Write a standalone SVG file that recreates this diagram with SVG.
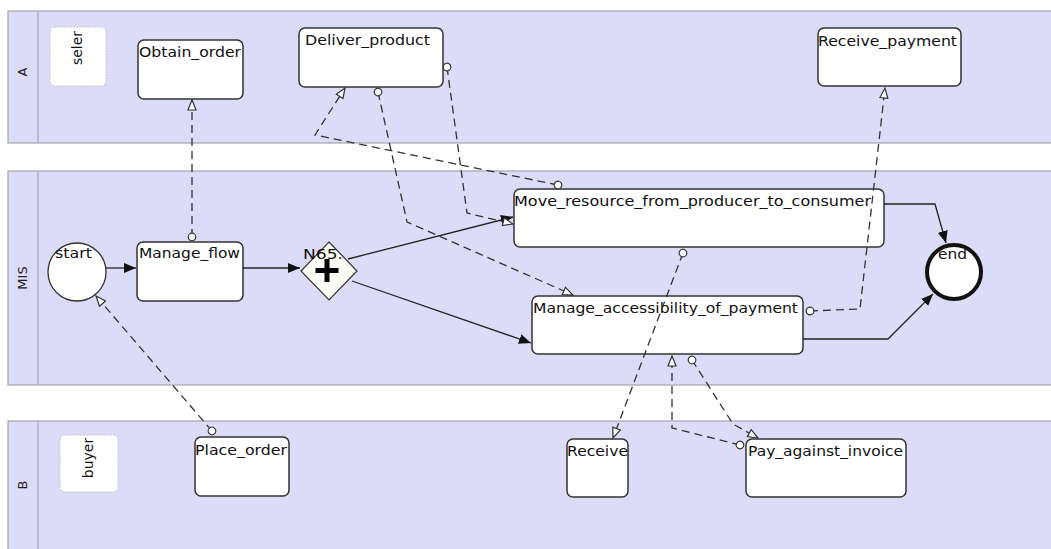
<svg xmlns="http://www.w3.org/2000/svg" width="1051" height="549" viewBox="0 0 1051 549">
<style>
.lane{fill:#dcdcf8;stroke:#a4a4b0;stroke-width:1.2}
.sep{stroke:#a4a4b0;stroke-width:1.2}
.hdr{font-family:"DejaVu Sans",sans-serif;font-size:13px;fill:#222}
.part{fill:#fff;stroke:#c8c8c8;stroke-width:1;stroke-dasharray:2 1}
.task{fill:#fff;stroke:#333;stroke-width:1.5}
.lbl{font-family:"DejaVu Sans",sans-serif;font-size:14px;fill:#111}
.flow{fill:none;stroke:#222;stroke-width:1.3}
.msg{fill:none;stroke:#333;stroke-width:1.3;stroke-dasharray:8 5}
</style>
<defs>
<marker id="arr" markerUnits="userSpaceOnUse" markerWidth="13" markerHeight="10" refX="12" refY="5" orient="auto"><path d="M0,0 L12,5 L0,10 z" fill="#111"/></marker>
<marker id="tri" markerUnits="userSpaceOnUse" markerWidth="12" markerHeight="10" refX="11" refY="5" orient="auto"><path d="M1,1 L11,5 L1,9 z" fill="#fff" stroke="#333" stroke-width="1.2"/></marker>
<marker id="dot" markerUnits="userSpaceOnUse" markerWidth="10" markerHeight="10" refX="5" refY="5" orient="auto"><circle cx="5" cy="5" r="3.8" fill="#fff" stroke="#333" stroke-width="1.2"/></marker>
</defs>
<rect width="1051" height="549" fill="#fff"/>
<g id="lane-A">
<rect class="lane" x="8" y="11" width="1050" height="132"/>
<line class="sep" x1="38" y1="11" x2="38" y2="143"/>
<text class="hdr" transform="translate(27,72) rotate(-90)" text-anchor="middle">A</text>
</g>
<g id="lane-MIS">
<rect class="lane" x="8" y="171" width="1050" height="214"/>
<line class="sep" x1="38" y1="171" x2="38" y2="385"/>
<text class="hdr" transform="translate(27,278) rotate(-90)" text-anchor="middle">MIS</text>
</g>
<g id="lane-B">
<rect class="lane" x="8" y="421" width="1050" height="140"/>
<line class="sep" x1="38" y1="421" x2="38" y2="549"/>
<text class="hdr" transform="translate(27,485) rotate(-90)" text-anchor="middle">B</text>
</g>
<g id="seler">
<rect class="part" x="50" y="27" width="56" height="59" rx="5"/>
<text class="lbl" transform="translate(82,48) rotate(-90)" text-anchor="middle" font-size="13">seler</text>
</g>
<g id="buyer">
<rect class="part" x="60" y="435" width="58" height="57" rx="5"/>
<text class="lbl" transform="translate(93,458) rotate(-90)" text-anchor="middle" font-size="13">buyer</text>
</g>
<g id="Obtain_order">
<rect class="task" x="138" y="40" width="105" height="59" rx="6"/>
<text class="lbl" x="139" y="57" textLength="102" lengthAdjust="spacingAndGlyphs">Obtain_order</text>
</g>
<g id="Deliver_product">
<rect class="task" x="299" y="28" width="144" height="59" rx="6"/>
<text class="lbl" x="305" y="45" textLength="125" lengthAdjust="spacingAndGlyphs">Deliver_product</text>
</g>
<g id="Receive_payment">
<rect class="task" x="818" y="28" width="143" height="58" rx="6"/>
<text class="lbl" x="818" y="46" textLength="139" lengthAdjust="spacingAndGlyphs">Receive_payment</text>
</g>
<g id="start">
<circle cx="77" cy="272" r="29" fill="#fff" stroke="#333" stroke-width="1.3"/>
<text class="lbl" x="55" y="258" textLength="37" lengthAdjust="spacingAndGlyphs">start</text>
</g>
<g id="Manage_flow">
<rect class="task" x="137" y="242" width="106" height="59" rx="6"/>
<text class="lbl" x="139" y="258" textLength="101" lengthAdjust="spacingAndGlyphs">Manage_flow</text>
</g>
<g id="gateway">
<polygon points="329,242 357,271 329,300 301,271" fill="#fdfdf6" stroke="#333" stroke-width="1.2"/>
<path d="M327,259 L327,282 M315.5,270.5 L338.5,270.5" stroke="#000" stroke-width="5"/>
<text class="lbl" x="303" y="259" textLength="40" lengthAdjust="spacingAndGlyphs">N65.</text>
</g>
<g id="Move_resource_from_producer_to_consumer">
<rect class="task" x="514" y="189" width="370" height="58" rx="6"/>
<text class="lbl" x="514" y="206" textLength="357" lengthAdjust="spacingAndGlyphs">Move_resource_from_producer_to_consumer</text>
</g>
<g id="Manage_accessibility_of_payment">
<rect class="task" x="532" y="296" width="271" height="58" rx="6"/>
<text class="lbl" x="533" y="313" textLength="265" lengthAdjust="spacingAndGlyphs">Manage_accessibility_of_payment</text>
</g>
<g id="end">
<circle cx="954" cy="272" r="27" fill="#fff" stroke="#111" stroke-width="4"/>
<text class="lbl" x="938" y="259" textLength="29" lengthAdjust="spacingAndGlyphs">end</text>
</g>
<g id="Place_order">
<rect class="task" x="195" y="437" width="94" height="59" rx="6"/>
<text class="lbl" x="195" y="455" textLength="92" lengthAdjust="spacingAndGlyphs">Place_order</text>
</g>
<g id="Receive">
<rect class="task" x="567" y="439" width="61" height="58" rx="6"/>
<text class="lbl" x="567" y="456" textLength="61" lengthAdjust="spacingAndGlyphs">Receive</text>
</g>
<g id="Pay_against_invoice">
<rect class="task" x="746" y="439" width="160" height="58" rx="6"/>
<text class="lbl" x="748" y="456" textLength="155" lengthAdjust="spacingAndGlyphs">Pay_against_invoice</text>
</g>
<g id="connectors">
<path class="flow" d="M106,268 L136,268" marker-end="url(#arr)"/>
<path class="flow" d="M243,268 L300,268" marker-end="url(#arr)"/>
<path class="flow" d="M348,259 L513,217" marker-end="url(#arr)"/>
<path class="flow" d="M352,281 L531,343" marker-end="url(#arr)"/>
<path class="flow" d="M884,204 L935,204 L946,243" marker-end="url(#arr)"/>
<path class="flow" d="M803,339 L888,339 L933,294" marker-end="url(#arr)"/>
<path class="msg" d="M192,237 L192,100" marker-start="url(#dot)" marker-end="url(#tri)"/>
<path class="msg" d="M212,431 L96,296" marker-start="url(#dot)" marker-end="url(#tri)"/>
<path class="msg" d="M558,185 L315,135 L345,88" marker-start="url(#dot)" marker-end="url(#tri)"/>
<path class="msg" d="M378,92 L407,222 L573,295" marker-start="url(#dot)" marker-end="url(#tri)"/>
<path class="msg" d="M447,67 L467,213 L513,224" marker-start="url(#dot)" marker-end="url(#tri)"/>
<path class="msg" d="M683,253 L613,438" marker-start="url(#dot)" marker-end="url(#tri)"/>
<path class="msg" d="M810,311 L860,309 L885,88" marker-start="url(#dot)" marker-end="url(#tri)"/>
<path class="msg" d="M740,445 L672,428 L672,356" marker-start="url(#dot)" marker-end="url(#tri)"/>
<path class="msg" d="M692,360 L733,424 L758,438" marker-start="url(#dot)" marker-end="url(#tri)"/>
</g>
</svg>
